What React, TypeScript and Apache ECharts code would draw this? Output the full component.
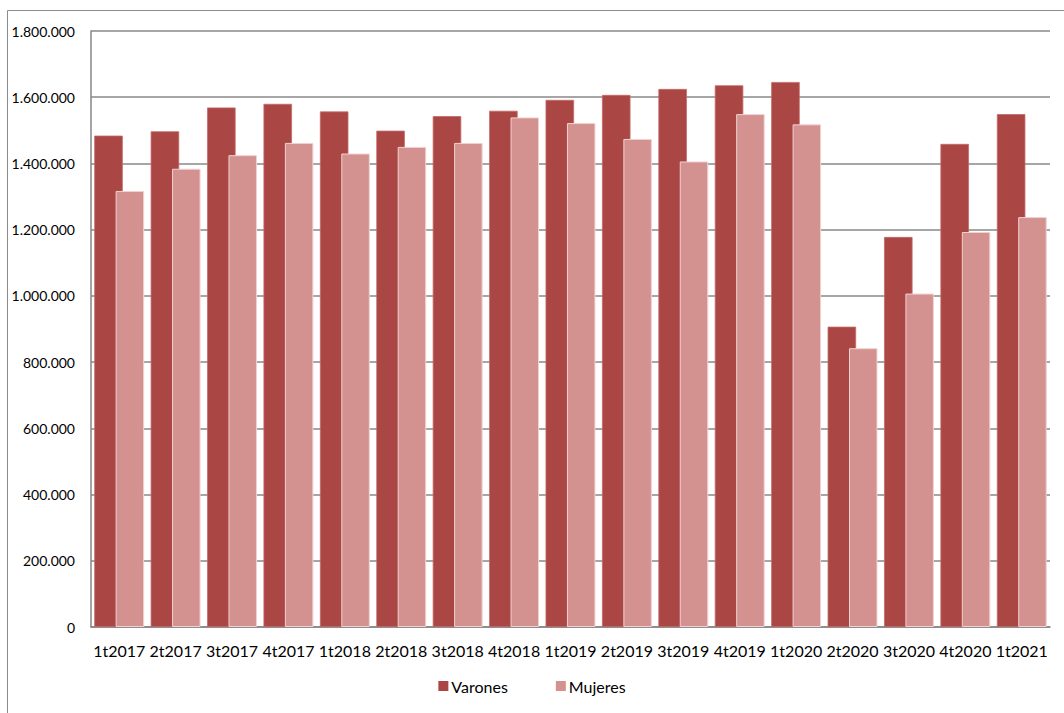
import React, { useEffect, useRef } from "react";
import * as echarts from "echarts";

const categories = [
  "1t2017", "2t2017", "3t2017", "4t2017",
  "1t2018", "2t2018", "3t2018", "4t2018",
  "1t2019", "2t2019", "3t2019", "4t2019",
  "1t2020", "2t2020", "3t2020", "4t2020",
  "1t2021",
];

const varones = [
  1484000, 1497000, 1569000, 1580000,
  1557000, 1499000, 1543000, 1559000,
  1592000, 1607000, 1625000, 1636000,
  1646000, 907000, 1178000, 1459000,
  1549000,
];

const mujeres = [
  1317000, 1384000, 1425000, 1462000,
  1430000, 1450000, 1462000, 1539000,
  1522000, 1474000, 1406000, 1549000,
  1518000, 842000, 1007000, 1193000,
  1238000,
];

const seriesNames = ["Varones", "Mujeres"];

function fmt(v: number): string {
  const s = Math.round(v).toString();
  return s.replace(/\B(?=(\d{3})+(?!\d))/g, ".");
}

export default function App() {
  const ref = useRef<HTMLDivElement>(null);
  useEffect(() => {
    if (!ref.current) return;
    const chart = echarts.init(ref.current, null, { renderer: "svg" });
    const font = "Lato, 'Open Sans', sans-serif";
    chart.setOption({
      animation: false,
      backgroundColor: "#ffffff",
      textStyle: { fontFamily: font },
      graphic: [
        {
          type: "rect",
          shape: { x: 7.5, y: 10.5, width: 1100, height: 800 },
          style: { fill: "none", stroke: "#8c8c8c", lineWidth: 1 },
          silent: true,
        },
      ],
      grid: { left: 91, right: 14, top: 31, bottom: 86, containLabel: false },
      legend: {
        data: seriesNames,
        left: "center",
        top: 673,
        icon: "rect",
        itemWidth: 10,
        itemHeight: 10,
        itemGap: 48,
        itemStyle: { borderWidth: 0 },
        textStyle: { fontSize: 16, color: "#000", fontFamily: font, padding: [0, 0, 0, -2] },
      },
      xAxis: {
        type: "category",
        data: categories,
        axisLine: { show: true, lineStyle: { color: "#868686", width: 1.5 } },
        axisTick: { show: false },
        axisLabel: { color: "#000", fontSize: 16, margin: 15, interval: 0, fontFamily: font },
      },
      yAxis: {
        type: "value",
        min: 0,
        max: 1800000,
        interval: 200000,
        axisLine: { show: true, lineStyle: { color: "#868686", width: 1.5 } },
        axisTick: { show: false },
        splitLine: { show: true, lineStyle: { color: "#888888", width: 1.5 } },
        axisLabel: {
          color: "#000",
          fontSize: 14,
          margin: 16,
          fontFamily: font,
          formatter: (v: number) => fmt(v),
        },
      },
      series: [
        {
          name: seriesNames[0],
          type: "bar",
          data: varones,
          barWidth: 28.5,
          barGap: "-25%",
          itemStyle: { color: "#AA4644", borderColor: "#C46A68", borderWidth: 0.8 },
        },
        {
          name: seriesNames[1],
          type: "bar",
          data: mujeres,
          barWidth: 28.5,
          barGap: "-25%",
          itemStyle: { color: "#D39290", borderColor: "#F0D2D0", borderWidth: 1 },
        },
      ],
    });
    return () => chart.dispose();
  }, []);
  return (
    <div
      ref={ref}
      style={{ position: "fixed", left: 0, top: 0, width: 1064, height: 713 }}
    />
  );
}
